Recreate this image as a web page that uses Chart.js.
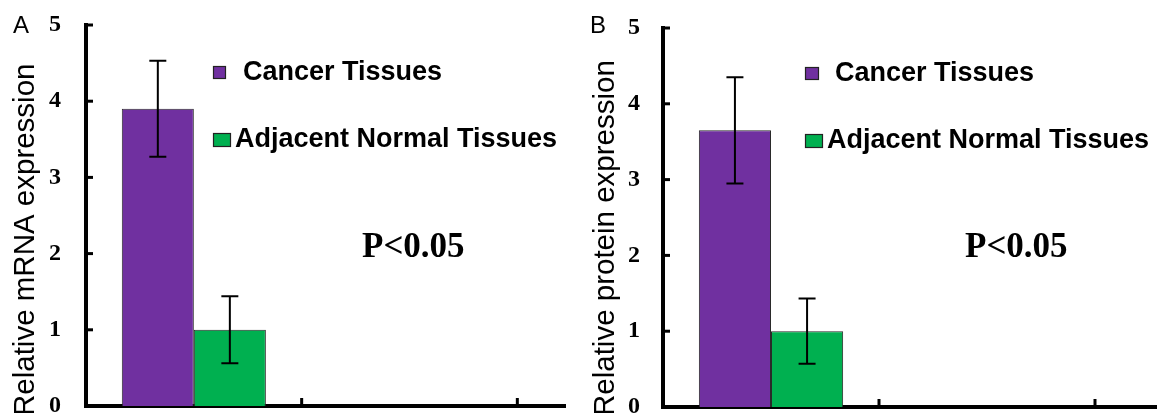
<!DOCTYPE html>
<html>
<head>
<meta charset="utf-8">
<script src="https://cdn.jsdelivr.net/npm/chart.js@4.4.0/dist/chart.umd.min.js"></script>
<style>
  body { margin: 0; background: #fff; }
  #page { position: relative; width: 1157px; height: 413px; overflow: hidden; }
  .panel { position: absolute; top: 0; height: 413px; overflow: hidden; }
  .inner { position: relative; height: 413px; }
</style>
</head>
<body>
<div id="page">
  <div class="panel" style="left:0;width:566px"><div class="inner" style="width:733px"><canvas id="chartA"></canvas></div></div>
  <div class="panel" style="left:580px;width:577px"><div class="inner" style="width:731px"><canvas id="chartB"></canvas></div></div>
</div>
<script>
// data
const categories = ["", "", ""];
const seriesNames = ["Cancer Tissues", "Adjacent Normal Tissues"];
const seriesColors = ["#7030A0", "#00B050"];
const yTicks = [0, 1, 2, 3, 4, 5];

const mrnaCancer = [3.9, null, null];
const mrnaCancerErr = [0.63, null, null];
const mrnaNormal = [1.0, null, null];
const mrnaNormalErr = [0.44, null, null];

const proteinCancer = [3.65, null, null];
const proteinCancerErr = [0.7, null, null];
const proteinNormal = [1.0, null, null];
const proteinNormalErr = [0.43, null, null];

const pText = "P<0.05";

const SANS = "'Liberation Sans', Arial, sans-serif";
const SERIF = "'Liberation Serif', 'Times New Roman', serif";

const decor = {
  id: "decor",
  afterDatasetsDraw(chart) {
    const ctx = chart.ctx;
    const y = chart.scales.y;
    ctx.save();
    ctx.strokeStyle = "#000";
    ctx.lineWidth = 2;
    chart.data.datasets.forEach((ds, i) => {
      chart.getDatasetMeta(i).data.forEach((bar, j) => {
        const v = ds.data[j];
        const e = ds.errors[j];
        if (v == null || e == null) return;
        const top = y.getPixelForValue(v + e);
        const bot = y.getPixelForValue(v - e);
        ctx.beginPath();
        ctx.moveTo(bar.x, top);
        ctx.lineTo(bar.x, bot);
        ctx.moveTo(bar.x - 8.5, top);
        ctx.lineTo(bar.x + 8.5, top);
        ctx.moveTo(bar.x - 8.5, bot);
        ctx.lineTo(bar.x + 8.5, bot);
        ctx.stroke();
      });
    });
    ctx.restore();
  },
  afterDraw(chart, args, opts) {
    const ctx = chart.ctx;
    const x = chart.scales.x;
    const y = chart.scales.y;
    ctx.save();
    // inward tick marks
    ctx.strokeStyle = "#000";
    ctx.lineWidth = 3;
    y.ticks.forEach((t) => {
      const py = y.getPixelForValue(t.value);
      ctx.beginPath();
      ctx.moveTo(y.right, py);
      ctx.lineTo(y.right + 7, py);
      ctx.stroke();
    });
    for (let k = 1; k < categories.length; k++) {
      const px = x.getPixelForValue(k - 0.5);
      ctx.beginPath();
      ctx.moveTo(px, x.top);
      ctx.lineTo(px, x.top - 8);
      ctx.stroke();
    }

    // y axis title, runs off the bottom like the original
    ctx.fillStyle = "#000";
    ctx.font = "29.5px " + SANS;
    ctx.textAlign = "left";
    ctx.textBaseline = "alphabetic";
    ctx.save();
    ctx.translate(33.5, 416);
    ctx.rotate(-Math.PI / 2);
    ctx.fillText(opts.yTitle, 0, 0);
    ctx.restore();

    // panel letter
    ctx.font = "24px " + SANS;
    ctx.fillText(opts.letter, opts.letterX, 33);

    // legend
    ctx.lineWidth = 1.2;
    chart.data.datasets.forEach((ds, i) => {
      const lg = opts.legend[i];
      ctx.fillStyle = ds.backgroundColor;
      ctx.fillRect(lg.bx, lg.by, lg.bw, lg.bh);
      ctx.strokeStyle = "#222";
      ctx.strokeRect(lg.bx + 0.5, lg.by + 0.5, lg.bw - 1, lg.bh - 1);
      ctx.fillStyle = "#000";
      ctx.font = "bold 27px " + SANS;
      ctx.fillText(ds.label, lg.tx, lg.ty);
    });

    // significance note
    ctx.font = "bold 35px " + SERIF;
    ctx.fillText(pText, opts.pX, 257);
    ctx.restore();
  }
};

function makeChart(id, cfg) {
  return new Chart(document.getElementById(id), {
    type: "bar",
    data: {
      labels: categories,
      datasets: [
        {
          label: seriesNames[0],
          data: cfg.cancer,
          errors: cfg.cancerErr,
          backgroundColor: seriesColors[0],
          borderColor: "#2a2a2a",
          borderWidth: 1,
          categoryPercentage: 0.668,
          barPercentage: 1
        },
        {
          label: seriesNames[1],
          data: cfg.normal,
          errors: cfg.normalErr,
          backgroundColor: seriesColors[1],
          borderColor: "#2a2a2a",
          borderWidth: 1,
          categoryPercentage: 0.668,
          barPercentage: 1
        }
      ]
    },
    options: {
      responsive: true,
      maintainAspectRatio: false,
      animation: false,
      devicePixelRatio: 1,
      layout: { padding: { top: cfg.top, left: 0, right: 0, bottom: 0 } },
      plugins: {
        legend: { display: false },
        tooltip: { enabled: false },
        decor: cfg.decor
      },
      scales: {
        x: {
          offset: true,
          grid: { display: false, drawTicks: false },
          border: { display: true, color: "#000", width: 4 },
          ticks: { display: false },
          afterFit(scale) {
            scale.height = cfg.xHeight;
            scale.paddingLeft = 0;
            scale.paddingRight = 0;
          }
        },
        y: {
          min: 0,
          max: 5,
          afterBuildTicks(scale) { scale.ticks = yTicks.map((v) => ({ value: v })); },
          grid: { display: false, drawTicks: true, tickLength: cfg.tickPad },
          border: { display: true, color: "#000", width: 4 },
          ticks: {
            color: "#000",
            padding: 0,
            font: { family: SERIF, size: 24, weight: "bold" }
          },
          afterFit(scale) {
            scale.width = cfg.yWidth;
            scale.paddingTop = 0;
            scale.paddingBottom = 0;
          }
        }
      }
    },
    plugins: [decor]
  });
}

makeChart("chartA", {
  cancer: mrnaCancer,
  cancerErr: mrnaCancerErr,
  normal: mrnaNormal,
  normalErr: mrnaNormalErr,
  top: 25,
  xHeight: 7,
  yWidth: 86,
  tickPad: 25,
  decor: {
    yTitle: "Relative mRNA expression",
    letter: "A",
    letterX: 13,
    pX: 362,
    legend: [
      { bx: 213, by: 66, bw: 13, bh: 13, tx: 243, ty: 80 },
      { bx: 213, by: 133, bw: 18, bh: 14, tx: 235, ty: 147 }
    ]
  }
});

makeChart("chartB", {
  cancer: proteinCancer,
  cancerErr: proteinCancerErr,
  normal: proteinNormal,
  normalErr: proteinNormalErr,
  top: 28,
  xHeight: 6,
  yWidth: 83,
  tickPad: 23,
  decor: {
    yTitle: "Relative protein expression",
    letter: "B",
    letterX: 10,
    pX: 385,
    legend: [
      { bx: 225, by: 67, bw: 14, bh: 13, tx: 255, ty: 81 },
      { bx: 225, by: 134, bw: 18, bh: 14, tx: 247, ty: 148 }
    ]
  }
});
</script>
</body>
</html>
